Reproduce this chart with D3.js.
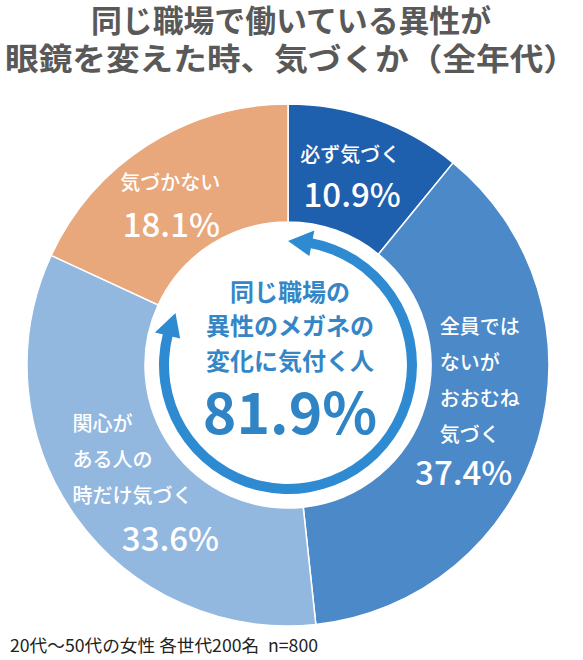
<!DOCTYPE html>
<meta charset="utf-8">
<head>
  <title>Eyeglasses donut</title>
</head>
<style>
  body { margin: 0; background: #fff; }
  svg text { font-family: "Noto Sans CJK JP", "Noto Sans", sans-serif; }
</style>
<body>
<svg width="583" height="660"></svg>
<script src="https://cdnjs.cloudflare.com/ajax/libs/d3/7.8.5/d3.min.js"></script>
<script>

// --- data ---
var titleLines = ["同じ職場で働いている異性が", "眼鏡を変えた時、気づくか（全年代）"];
var categories = ["必ず気づく", "全員ではないがおおむね気づく", "関心がある人の時だけ気づく", "気づかない"];
var labelLines = [["必ず気づく"], ["全員では", "ないが", "おおむね", "気づく"], ["関心が", "ある人の", "時だけ気づく"], ["気づかない"]];
var values = [10.9, 37.4, 33.6, 18.1];
var noticeCount = 3; // first three slices = people who notice
var centerLines = ["同じ職場の", "異性のメガネの", "変化に気付く人"];
var note = "20代～50代の女性 各世代200名\u2002n=800";

var colors = ["#1f60ae", "#4c89c8", "#93b8df", "#e9a77c"];

var svg = d3.select("svg");
var cx = 288, cy = 365, R = 261, R0 = 143;

// title
svg.selectAll(".title")
  .data(titleLines)
  .enter().append("text")
  .attr("class", "title")
  .attr("x", 291)
  .attr("y", function(d, i) { return 21 + i * 38; })
  .attr("dy", "0.37em")
  .attr("text-anchor", "middle")
  .attr("textLength", function(d, i) { return i == 0 ? 400 : 572; })
  .attr("lengthAdjust", "spacingAndGlyphs")
  .style("font-size", "31px")
  .style("font-weight", 700)
  .style("fill", "#595959")
  .text(function(d) { return d; });

var g = svg.append("g").attr("transform", "translate(" + cx + "," + cy + ")");

var pie = d3.pie().sort(null).value(function(d) { return d; });
var arcs = pie(values);
var arc = d3.arc().innerRadius(R0).outerRadius(R);

g.selectAll(".slice")
  .data(arcs)
  .enter().append("path")
  .attr("class", "slice")
  .attr("d", arc)
  .style("fill", function(d, i) { return colors[i]; })
  .style("stroke", "#fff")
  .style("stroke-width", 1.5);

// labels, placed around each slice centroid
var labelArc = d3.arc().innerRadius(200).outerRadius(200);
var layout = [
  { anchor: "middle", x: -5,  y: -22, px: -3, py: 18 },
  { anchor: "start",  x: -40, y: -95, px: -16, py: 51 },
  { anchor: "start",  x: -53, y: -58, px: 45, py: 57 },
  { anchor: "middle", x: -10, y: -14, px: -9, py: 28 }
];

arcs.forEach(function(a, i) {
  var c = labelArc.centroid(a), L = layout[i];
  var lg = g.append("g").attr("transform", "translate(" + c[0] + "," + c[1] + ")");
  lg.selectAll("text.lbl")
    .data(labelLines[i])
    .enter().append("text")
    .attr("class", "lbl")
    .attr("x", L.x)
    .attr("y", function(d, j) { return L.y + j * 36; })
    .attr("dy", "0.37em")
    .attr("text-anchor", L.anchor)
    .style("font-size", "20px")
    .style("font-weight", 500)
    .style("fill", "#fff")
    .text(function(d) { return d; });
  lg.append("text")
    .attr("x", L.px)
    .attr("y", L.py)
    .attr("dy", "0.37em")
    .attr("text-anchor", "middle")
    .style("font-size", "33px")
    .style("font-weight", 500)
    .style("fill", "#fff")
    .text(d3.format(".1f")(a.data) + "%");
});

// ring with arrow heads spanning the "notice" share
var total = d3.sum(values);
var noticed = d3.sum(values.slice(0, noticeCount));
var a0 = 0, a1 = 2 * Math.PI * noticed / total;
var rr = 124, hl = 24 / rr, hw = 13;
var ringColor = "#2e8bd2";

g.append("path")
  .attr("d", d3.arc().innerRadius(rr - 5).outerRadius(rr + 5).startAngle(a0 + hl * 0.9).endAngle(a1 - hl * 0.9)())
  .style("fill", ringColor);

function pt(a, r) { return [r * Math.sin(a), -r * Math.cos(a)]; }
[[a0, a0 + hl], [a1, a1 - hl]].forEach(function(h) {
  var p = [pt(h[0], rr), pt(h[1], rr - hw), pt(h[1], rr + hw)];
  g.append("path")
    .attr("d", "M" + p.map(function(q) { return q.join(","); }).join("L") + "Z")
    .style("fill", ringColor);
});

// center text
g.selectAll(".ctext")
  .data(centerLines)
  .enter().append("text")
  .attr("class", "ctext")
  .attr("x", 2)
  .attr("y", function(d, i) { return -73 + i * 34.5; })
  .attr("dy", "0.37em")
  .attr("text-anchor", "middle")
  .style("font-size", "24px")
  .style("font-weight", 700)
  .style("fill", "#3586c6")
  .text(function(d) { return d; });

g.append("text")
  .attr("x", 2)
  .attr("y", 48)
  .attr("dy", "0.37em")
  .attr("text-anchor", "middle")
  .style("font-size", "57px")
  .style("font-weight", 700)
  .style("fill", "#2f84c6")
  .text(d3.format(".1f")(noticed) + "%");

// footnote
svg.append("text")
  .attr("x", 10)
  .attr("y", 646)
  .attr("dy", "0.37em")
  .attr("textLength", 308)
  .attr("lengthAdjust", "spacingAndGlyphs")
  .style("font-size", "17.5px")
  .style("fill", "#222")
  .text(note);

</script>
</body>
</html>
